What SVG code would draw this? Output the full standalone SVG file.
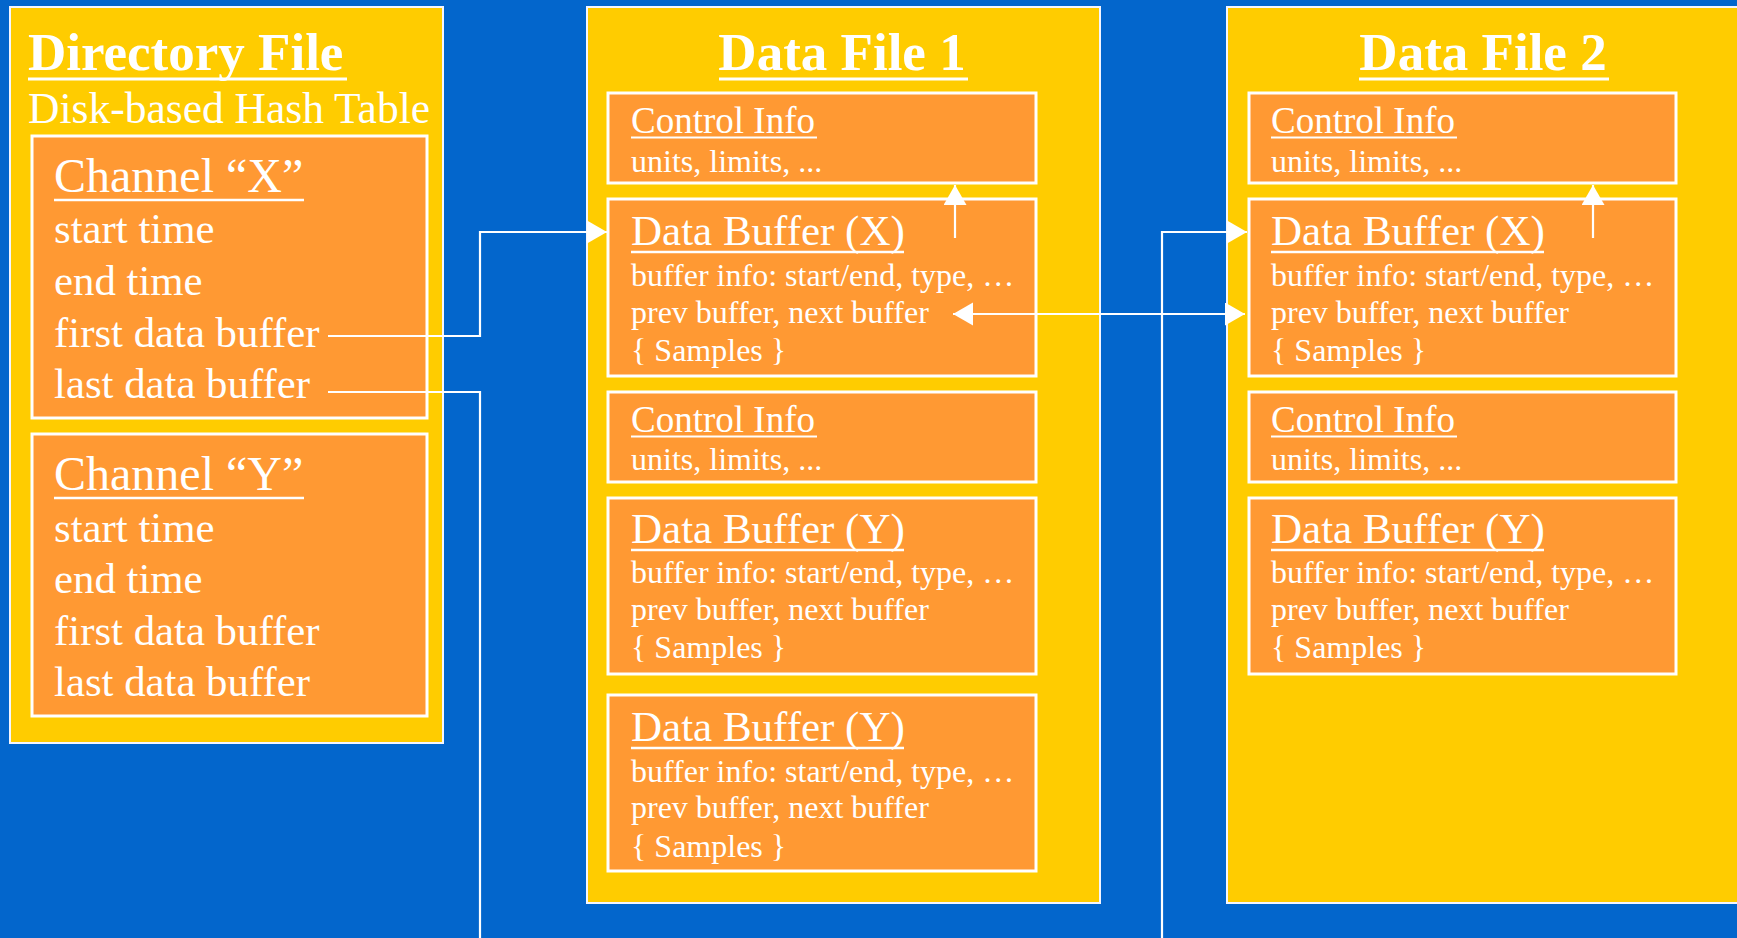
<svg xmlns="http://www.w3.org/2000/svg" width="1737" height="938" viewBox="0 0 1737 938">
<style>
.outer{fill:#FFCC00;stroke:#F4F6FF;stroke-width:2}
.inner{fill:#FF9933;stroke:#FFFFFF;stroke-width:3}
text{font-family:"Liberation Serif","Times New Roman",serif;fill:#FFFFFF}
.title{font-size:53px;font-weight:bold}
.sub{font-size:43.5px}
.ch{font-size:48px}
.item{font-size:42.8px}
.ci{font-size:37px}
.ci2{font-size:32px}
.db{font-size:43px}
.db2{font-size:32px}
.ul{stroke:#FFFFFF;fill:none}
.conn{stroke:#FFFFFF;stroke-width:2.2;fill:none}
</style>
<defs>
<marker id="arr" markerUnits="userSpaceOnUse" markerWidth="22" markerHeight="24" refX="20" refY="11.5" orient="auto-start-reverse">
<path d="M0,0 L20,11.5 L0,23 z" fill="#FFFFFF"/>
</marker>
</defs>
<rect x="0" y="0" width="1737" height="938" fill="#0366CC"/>

<g id="directory-file">
<rect class="outer" x="10" y="7" width="433" height="736"/>
<text class="title" x="28" y="70">Directory File</text>
<line class="ul" x1="28" y1="79" x2="347" y2="79" stroke-width="3"/>
<text class="sub" x="28" y="123">Disk-based Hash Table</text>
</g>

<g id="channel-x">
<rect class="inner" x="32" y="136" width="395" height="282"/>
<text class="ch" x="54" y="192">Channel “X”</text>
<line class="ul" x1="54" y1="200" x2="304" y2="200" stroke-width="2.5"/>
<text class="item" x="54" y="243">start time</text>
<text class="item" x="54" y="295">end time</text>
<text class="item" x="54" y="347">first data buffer</text>
<text class="item" x="54" y="398">last data buffer</text>
</g>

<g id="channel-y">
<rect class="inner" x="32" y="434" width="395" height="282"/>
<text class="ch" x="54" y="490">Channel “Y”</text>
<line class="ul" x1="54" y1="498" x2="304" y2="498" stroke-width="2.5"/>
<text class="item" x="54" y="542">start time</text>
<text class="item" x="54" y="593">end time</text>
<text class="item" x="54" y="645">first data buffer</text>
<text class="item" x="54" y="696">last data buffer</text>
</g>

<g id="data-file-1">
<rect class="outer" x="587" y="7" width="513" height="896"/>
<text class="title" x="842" y="70" text-anchor="middle">Data File 1</text>
<line class="ul" x1="719" y1="79" x2="968" y2="79" stroke-width="3"/>
</g>

<g id="df1-control-info-1">
<rect class="inner" x="608" y="93" width="428" height="90"/>
<text class="ci" x="631" y="133">Control Info</text>
<line class="ul" x1="631" y1="137.5" x2="817" y2="137.5" stroke-width="2"/>
<text class="ci2" x="631" y="172">units, limits, ...</text>
</g>

<g id="df1-data-buffer-x">
<rect class="inner" x="608" y="199" width="428" height="177"/>
<text class="db" x="631" y="245">Data Buffer (X)</text>
<line class="ul" x1="631" y1="252" x2="904" y2="252" stroke-width="2.5"/>
<text class="db2" x="631" y="286">buffer info: start/end, type, …</text>
<text class="db2" x="631" y="323">prev buffer, next buffer</text>
<text class="db2" x="631" y="361">{ Samples }</text>
</g>

<g id="df1-control-info-2">
<rect class="inner" x="608" y="392" width="428" height="90"/>
<text class="ci" x="631" y="432">Control Info</text>
<line class="ul" x1="631" y1="436.5" x2="817" y2="436.5" stroke-width="2"/>
<text class="ci2" x="631" y="470">units, limits, ...</text>
</g>

<g id="df1-data-buffer-y-1">
<rect class="inner" x="608" y="498" width="428" height="176"/>
<text class="db" x="631" y="543">Data Buffer (Y)</text>
<line class="ul" x1="631" y1="550" x2="904" y2="550" stroke-width="2.5"/>
<text class="db2" x="631" y="583">buffer info: start/end, type, …</text>
<text class="db2" x="631" y="620">prev buffer, next buffer</text>
<text class="db2" x="631" y="658">{ Samples }</text>
</g>

<g id="df1-data-buffer-y-2">
<rect class="inner" x="608" y="695" width="428" height="176"/>
<text class="db" x="631" y="741">Data Buffer (Y)</text>
<line class="ul" x1="631" y1="748" x2="904" y2="748" stroke-width="2.5"/>
<text class="db2" x="631" y="782">buffer info: start/end, type, …</text>
<text class="db2" x="631" y="818">prev buffer, next buffer</text>
<text class="db2" x="631" y="857">{ Samples }</text>
</g>

<g id="data-file-2">
<rect class="outer" x="1227" y="7" width="520" height="896"/>
<text class="title" x="1483" y="70" text-anchor="middle">Data File 2</text>
<line class="ul" x1="1359" y1="79" x2="1609" y2="79" stroke-width="3"/>
</g>

<g id="df2-control-info-1">
<rect class="inner" x="1249" y="93" width="427" height="90"/>
<text class="ci" x="1271" y="133">Control Info</text>
<line class="ul" x1="1271" y1="137.5" x2="1457" y2="137.5" stroke-width="2"/>
<text class="ci2" x="1271" y="172">units, limits, ...</text>
</g>

<g id="df2-data-buffer-x">
<rect class="inner" x="1249" y="199" width="427" height="177"/>
<text class="db" x="1271" y="245">Data Buffer (X)</text>
<line class="ul" x1="1271" y1="252" x2="1544" y2="252" stroke-width="2.5"/>
<text class="db2" x="1271" y="286">buffer info: start/end, type, …</text>
<text class="db2" x="1271" y="323">prev buffer, next buffer</text>
<text class="db2" x="1271" y="361">{ Samples }</text>
</g>

<g id="df2-control-info-2">
<rect class="inner" x="1249" y="392" width="427" height="90"/>
<text class="ci" x="1271" y="432">Control Info</text>
<line class="ul" x1="1271" y1="436.5" x2="1457" y2="436.5" stroke-width="2"/>
<text class="ci2" x="1271" y="470">units, limits, ...</text>
</g>

<g id="df2-data-buffer-y">
<rect class="inner" x="1249" y="498" width="427" height="176"/>
<text class="db" x="1271" y="543">Data Buffer (Y)</text>
<line class="ul" x1="1271" y1="550" x2="1544" y2="550" stroke-width="2.5"/>
<text class="db2" x="1271" y="583">buffer info: start/end, type, …</text>
<text class="db2" x="1271" y="620">prev buffer, next buffer</text>
<text class="db2" x="1271" y="658">{ Samples }</text>
</g>

<g id="connectors">
<path class="conn" d="M328,336 H480 V232 H607" marker-end="url(#arr)"/>
<path class="conn" d="M328,392 H480 V945"/>
<path class="conn" d="M1162,945 V232 H1247" marker-end="url(#arr)"/>
<path class="conn" d="M953,314 H1245" marker-start="url(#arr)" marker-end="url(#arr)"/>
<path class="conn" d="M955,238 V185" marker-end="url(#arr)"/>
<path class="conn" d="M1593,238 V185" marker-end="url(#arr)"/>
</g>
</svg>
